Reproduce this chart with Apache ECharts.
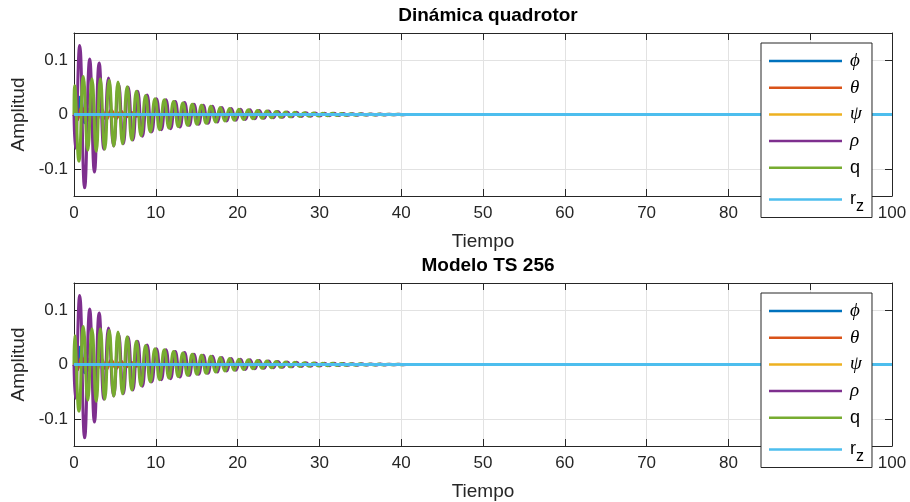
<!DOCTYPE html>
<html><head><meta charset="utf-8">
<script src="https://cdn.jsdelivr.net/npm/echarts@6/dist/echarts.min.js"></script>
<style>html,body{margin:0;padding:0;background:#fff}#c{width:910px;height:502px}</style>
</head><body><div id="c"></div>
<script>
// ---- data (extrema of the damped oscillations) ----
const timeRho = [0, 0.15, 0.69, 1.30, 1.92, 2.50, 3.08, 3.66, 4.22,
  4.85, 5.45, 6.03, 6.62, 7.20, 7.78, 8.36, 8.94, 9.51, 10.08,
  10.67, 11.24, 11.81, 12.38, 12.95, 13.52, 14.09, 14.66, 15.23, 15.80, 16.37, 16.94, 17.51, 18.08, 18.65, 19.22, 19.79, 20.36,
  20.93, 21.50, 22.07, 22.64, 23.21, 23.78, 24.35, 24.92, 25.49, 26.06, 26.63, 27.20, 27.77, 28.34, 28.91, 29.48, 30.05, 30.62,
  31.19, 31.76, 32.33, 32.90, 33.47, 34.04, 34.61, 35.18, 35.75, 36.32, 36.89, 37.46, 38.03, 38.60, 39.17, 39.74, 40.31, 40.88, 42.0, 100];
const rho = [0, -0.062, 0.127, -0.135, 0.102, -0.106, 0.095, -0.064, 0.067,
  -0.058, 0.056, -0.054, 0.050, -0.047, 0.043, -0.040, 0.036, -0.032, 0.029,
  -0.028, 0.027, -0.026, 0.024, -0.023, 0.022, -0.020, 0.019, -0.018, 0.017, -0.016, 0.015, -0.014, 0.013, -0.012, 0.011, -0.0105, 0.0098,
  -0.0092, 0.0086, -0.0080, 0.0074, -0.0069, 0.0064, -0.0059, 0.0055, -0.0051, 0.0047, -0.0043, 0.0040, -0.0037, 0.0034, -0.0031, 0.0029, -0.0027, 0.0025,
  -0.0023, 0.0021, -0.0019, 0.0017, -0.0016, 0.0015, -0.0014, 0.0012, -0.0011, 0.0010, -0.0009, 0.0008, -0.0007, 0.0006, -0.0005, 0.0004, -0.0003, 0.0002, 0, 0];

const timeQ = [0, 0.08, 0.60, 1.14, 1.68, 2.20, 2.72, 3.22, 3.76, 4.30, 4.86, 5.38, 5.94, 6.50, 7.07, 7.63, 8.20, 8.76, 9.33, 9.90,
  10.47, 11.04, 11.61, 12.18, 12.75, 13.32, 13.89, 14.46, 15.03, 15.60, 16.17, 16.74, 17.31, 17.88, 18.45, 19.02, 19.59, 20.16, 20.73, 21.30,
  21.87, 22.44, 23.01, 23.58, 24.15, 24.72, 25.29, 25.86, 26.43, 27.00, 27.57, 28.14, 28.71, 29.28, 29.85, 30.42, 30.99, 31.56, 32.13, 32.70,
  33.27, 33.84, 34.41, 34.98, 35.55, 36.12, 36.69, 37.26, 37.83, 38.40, 38.97, 39.54, 40.11, 40.68, 42.0, 100];
const q = [0, 0.053, -0.086, 0.070, -0.066, 0.066, -0.068, 0.066, -0.064, 0.063, -0.058, 0.060, -0.054, 0.051, -0.047, 0.043, -0.039, 0.035, -0.032, 0.029,
  -0.028, 0.027, -0.025, 0.024, -0.022, 0.021, -0.020, 0.019, -0.018, 0.017, -0.016, 0.015, -0.014, 0.013, -0.012, 0.011, -0.0105, 0.0098, -0.0092, 0.0086,
  -0.0080, 0.0074, -0.0069, 0.0064, -0.0059, 0.0055, -0.0051, 0.0047, -0.0043, 0.0040, -0.0037, 0.0034, -0.0031, 0.0029, -0.0027, 0.0025, -0.0023, 0.0021, -0.0019, 0.0017,
  -0.0016, 0.0015, -0.0014, 0.0012, -0.0011, 0.0010, -0.0009, 0.0008, -0.0007, 0.0006, -0.0005, 0.0004, -0.0003, 0.0002, 0, 0];

const timePhi = [0, 0.30, 0.78, 1.30, 1.85, 2.40, 3.00, 3.60, 4.50, 100];
const phi = [0, -0.012, 0.032, -0.015, 0.010, -0.006, 0.003, -0.001, 0, 0];

const timeTheta = [0, 0.35, 0.95, 1.55, 2.15, 2.75, 3.35, 3.95, 4.55, 5.15, 5.75, 6.35, 6.95, 7.55, 8.50, 100];
const theta = [0, -0.010, 0.013, -0.013, 0.012, -0.011, 0.010, -0.009, 0.008, -0.007, 0.006, -0.005, 0.004, -0.003, 0, 0];

const timePsi = [0, 100];
const psi = [0, 0];

const timeRz = [0, 100];
const rz = [0, 0];

const yTickValues = [-0.1, 0, 0.1];
const titles = ['Dinámica quadrotor', 'Modelo TS 256'];
const seriesNames = ['phi', 'theta', 'psi', 'rho', 'q', 'rz'];
const legendLabels = {phi: '{g|ϕ}', theta: '{g|θ}', psi: '{g|ψ}', rho: '{g|ρ}', q: '{n|q}', rz: '{n|r}{sub|z}'};
// ---------------------------------------------------------------------------

const seriesData = {
  phi: [timePhi, phi], theta: [timeTheta, theta], psi: [timePsi, psi],
  rho: [timeRho, rho], q: [timeQ, q], rz: [timeRz, rz]
};
const colors = {phi: '#0072BD', theta: '#D95319', psi: '#EDB120', rho: '#7E2F8E', q: '#77AC30', rz: '#4DBEEE'};
const pairs = (t, v) => t.map((x, i) => [x, v[i]]);

const FONT = 'Liberation Sans, Arial, Helvetica, sans-serif';
const axisColor = '#262626';
const gridColor = '#e2e2e2';
const plotTops = [33, 283];

const grids = [], xAxes = [], yAxes = [], series = [], legends = [], titleOpts = [];
plotTops.forEach((top, i) => {
  grids.push({left: 74, top: top, width: 818, height: 163, containLabel: false});
  titleOpts.push({text: titles[i], left: 483, textAlign: 'center', top: top - 32,
    textStyle: {fontFamily: FONT, fontSize: 19, fontWeight: 'bold', color: '#000'}});
  xAxes.push({gridIndex: i, type: 'value', min: 0, max: 100, interval: 10, position: 'bottom',
    axisLine: {show: true, onZero: false, lineStyle: {color: axisColor, width: 1}},
    axisTick: {show: true, inside: true, length: 7, lineStyle: {color: axisColor}},
    axisLabel: {fontFamily: FONT, fontSize: 17, color: '#262626', margin: 9},
    splitLine: {show: true, lineStyle: {color: gridColor, width: 1}},
    name: 'Tiempo', nameLocation: 'middle', nameGap: 36,
    nameTextStyle: {fontFamily: FONT, fontSize: 19, color: '#262626'}});
  xAxes.push({gridIndex: i, type: 'value', min: 0, max: 100, interval: 10, position: 'top',
    axisLine: {show: true, onZero: false, lineStyle: {color: axisColor, width: 1}},
    axisTick: {show: true, inside: true, length: 7, lineStyle: {color: axisColor}},
    axisLabel: {show: false}, splitLine: {show: false}});
  yAxes.push({gridIndex: i, type: 'value', min: -0.15, max: 0.15, position: 'left',
    axisLine: {show: true, onZero: false, lineStyle: {color: axisColor, width: 1}},
    axisTick: {show: true, inside: true, length: 7, customValues: yTickValues, lineStyle: {color: axisColor}},
    axisLabel: {customValues: yTickValues, fontFamily: FONT, fontSize: 17, color: '#262626', margin: 6,
      formatter: v => (Math.abs(v) < 1e-9 ? '0' : String(+v.toFixed(2)))},
    splitLine: {show: true, lineStyle: {color: gridColor, width: 1}},
    name: 'Amplitud', nameLocation: 'middle', nameGap: 37,
    nameTextStyle: {fontFamily: FONT, fontSize: 19, color: '#262626'}});
  yAxes.push({gridIndex: i, type: 'value', min: -0.15, max: 0.15, position: 'right',
    axisLine: {show: true, onZero: false, lineStyle: {color: axisColor, width: 1}},
    axisTick: {show: true, inside: true, length: 7, customValues: yTickValues, lineStyle: {color: axisColor}},
    axisLabel: {show: false}, splitLine: {show: false}});

  seriesNames.forEach(name => {
    series.push({
      name: name, type: 'line', xAxisIndex: 2 * i, yAxisIndex: 2 * i,
      data: pairs(seriesData[name][0], seriesData[name][1]),
      smooth: 0.5, symbol: 'none', showSymbol: false,
      lineStyle: {width: 3, color: colors[name]}, itemStyle: {color: colors[name]},
      animation: false
    });
  });

  legends.push({
    data: seriesNames, orient: 'vertical', left: 761, top: top + 10,
    icon: 'rect', itemWidth: 73, itemHeight: 2.5, itemGap: 6.7,
    padding: [8, 8, 3, 8], backgroundColor: '#fff', borderColor: '#262626', borderWidth: 1,
    borderRadius: 0, selectedMode: false,
    formatter: name => legendLabels[name],
    textStyle: {
      fontFamily: FONT, fontSize: 17, lineHeight: 20, color: '#000', padding: [0, 0, 0, 3],
      rich: {
        g: {fontFamily: 'Liberation Serif, DejaVu Serif, serif', fontStyle: 'italic', fontSize: 19, lineHeight: 20, color: '#000'},
        n: {fontFamily: FONT, fontSize: 18, lineHeight: 20, color: '#000'},
        sub: {fontFamily: FONT, fontSize: 16, lineHeight: 6, padding: [14, 0, 0, 0], color: '#000'}
      }
    }
  });
});

const chart = echarts.init(document.getElementById('c'), null, {renderer: 'canvas'});
chart.setOption({
  animation: false,
  backgroundColor: '#fff',
  title: titleOpts,
  grid: grids,
  xAxis: xAxes,
  yAxis: yAxes,
  legend: legends,
  series: series
});
</script>
</body></html>
